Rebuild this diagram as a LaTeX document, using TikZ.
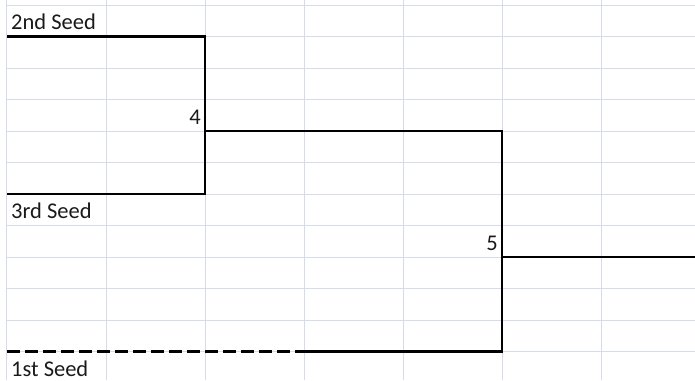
\documentclass[tikz,border=0pt]{standalone}
\usepackage{fontspec}
\setmainfont{Carlito}
\definecolor{gridblue}{HTML}{D5DBE8}
\definecolor{celltext}{HTML}{1A1A1A}
\tikzset{
  cell/.style={font=\fontsize{22.5}{27}\selectfont, text=celltext, inner sep=0pt},
  seed/.style={cell, anchor=base west, xshift=4pt, yshift=7pt},
  game/.style={cell, anchor=base east, xshift=-4pt, yshift=7pt},
  bracket/.style={line width=2.6pt, line join=miter},
}
\begin{document}
\begin{tikzpicture}[x=99pt,y=-31.5pt]
  \useasboundingbox (-0.0707,-0.1587) rectangle (6.9495,11.905);
  \foreach \c in {0,...,6}
    \draw[gridblue, line width=1pt] (\c,-0.1587) -- (\c,11.905);
  \foreach \r in {0,...,11}
    \draw[gridblue, line width=1pt] (0,\r) -- (6.9495,\r);

  \coordinate (top2) at (0,1);
  \coordinate (top4) at (2,1);
  \coordinate (bot4) at (2,6);
  \coordinate (top3) at (0,6);
  \coordinate (win4) at (2,4);
  \coordinate (top5) at (5,4);
  \coordinate (bot5) at (5,11);
  \coordinate (mid1) at (3,11);
  \coordinate (top1) at (0,11);
  \coordinate (win5) at (5,8);
  \coordinate (out5) at (6.9495,8);

  \node[seed] (seed2) at (0,1) {2nd Seed};
  \node[seed] (seed3) at (0,7) {3rd Seed};
  \node[seed] (seed1) at (0,12) {1st Seed};
  \node[game] (game4) at (2,4) {4};
  \node[game] (game5) at (5,8) {5};

  \draw[bracket] (top2) -- (top4) -- (bot4) -- (top3);
  \draw[bracket] (win4) -- (top5) -- (bot5) -- (mid1);
  \draw[bracket, dash pattern=on 13pt off 5pt] (top1) -- (mid1);
  \draw[bracket] (win5) -- (out5);
\end{tikzpicture}
\end{document}
